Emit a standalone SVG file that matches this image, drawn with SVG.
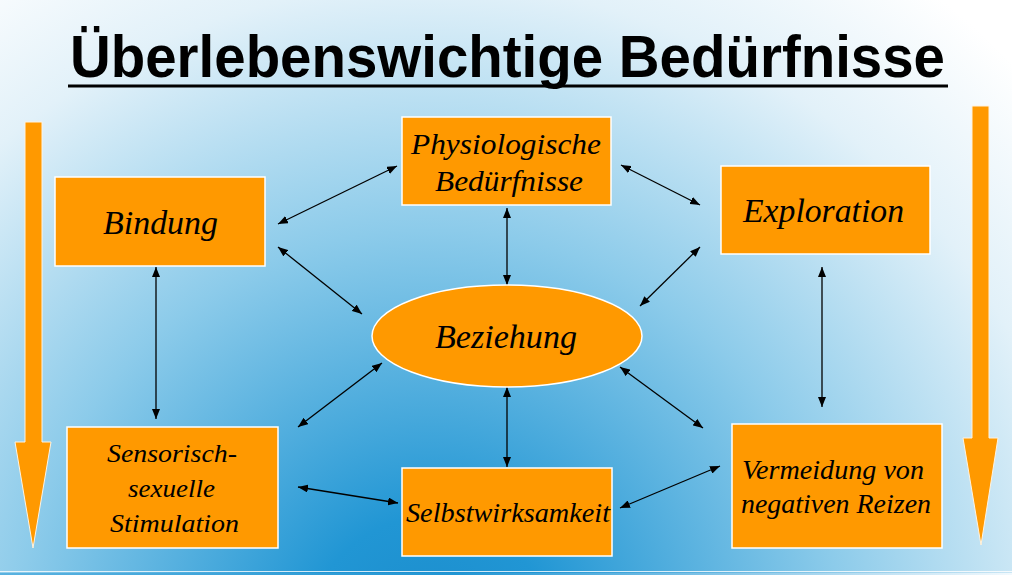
<svg xmlns="http://www.w3.org/2000/svg" width="1012" height="575" viewBox="0 0 1012 575">
<defs>
<radialGradient id="bg" gradientUnits="userSpaceOnUse" cx="430" cy="640" r="820">
<stop offset="0" stop-color="#1a8ccc"/>
<stop offset="0.15" stop-color="#2196d4"/>
<stop offset="0.5" stop-color="#8ccbea"/>
<stop offset="0.8" stop-color="#e2f1f9"/>
<stop offset="1" stop-color="#ffffff"/>
</radialGradient>
<linearGradient id="strip" x1="0" y1="0" x2="1" y2="0">
<stop offset="0" stop-color="#5ab2e0"/>
<stop offset="0.45" stop-color="#2196d4"/>
<stop offset="1" stop-color="#f2f9fd"/>
</linearGradient>
<marker id="ah" viewBox="0 0 10 8" refX="10" refY="4" markerWidth="10" markerHeight="8" markerUnits="userSpaceOnUse" orient="auto-start-reverse">
<path d="M0,0 L10,4 L0,8 Z" fill="#000"/>
</marker>
<style>
.box{fill:#ff9900;stroke:#ffffff;stroke-width:1.5}
.lbl{font-family:"Liberation Serif","Times New Roman",serif;font-style:italic;fill:#000;text-anchor:start}
.con{stroke:#000;stroke-width:1.3;fill:none;marker-start:url(#ah);marker-end:url(#ah)}
.big{fill:#ff9900;stroke:#fff3e0;stroke-width:1}
</style>
</defs>
<rect x="0" y="0" width="1012" height="575" fill="url(#bg)"/>
<rect x="0" y="573" width="1012" height="2" fill="url(#strip)"/>
<line x1="0" y1="571.5" x2="1012" y2="571.5" stroke="#ffffff" stroke-width="1.2" opacity="0.8"/>

<g id="title">
<text x="70" y="77" font-family="Liberation Sans, Arial, sans-serif" font-weight="bold" font-size="60" textLength="875" lengthAdjust="spacingAndGlyphs" fill="#000">Überlebenswichtige Bedürfnisse</text>
<rect x="68" y="84.5" width="880" height="3" fill="#000"/>
</g>

<g id="arrow-left">
<path class="big" d="M25,122 L42,122 L42,442 L51,442 L33,548 L15,442 L25,442 Z"/>
</g>
<g id="arrow-right">
<path class="big" d="M972,106 L989,106 L989,438 L998,438 L981,545 L963,438 L972,438 Z"/>
</g>

<g id="connectors">
<line class="con" x1="278" y1="224" x2="397" y2="166"/>
<line class="con" x1="278" y1="247" x2="362" y2="314"/>
<line class="con" x1="507" y1="208" x2="507" y2="285"/>
<line class="con" x1="621" y1="165" x2="700" y2="205"/>
<line class="con" x1="700" y1="247" x2="640" y2="306"/>
<line class="con" x1="156" y1="267" x2="156" y2="419"/>
<line class="con" x1="822" y1="267" x2="822" y2="407"/>
<line class="con" x1="382" y1="363" x2="298" y2="427"/>
<line class="con" x1="298" y1="487" x2="398" y2="503"/>
<line class="con" x1="507" y1="387" x2="507" y2="467"/>
<line class="con" x1="620" y1="367" x2="703" y2="428"/>
<line class="con" x1="620" y1="508" x2="720" y2="466"/>
</g>

<g id="bindung">
<rect class="box" x="55" y="177" width="210" height="89"/>
<text class="lbl" x="103" y="234" font-size="34" textLength="115" lengthAdjust="spacingAndGlyphs">Bindung</text>
</g>
<g id="physiologische">
<rect class="box" x="402" y="117" width="209" height="88"/>
<text class="lbl" x="411" y="154" font-size="29" textLength="190" lengthAdjust="spacingAndGlyphs">Physiologische</text>
<text class="lbl" x="435" y="191" font-size="29" textLength="148" lengthAdjust="spacingAndGlyphs">Bedürfnisse</text>
</g>
<g id="exploration">
<rect class="box" x="721" y="166" width="209" height="88"/>
<text class="lbl" x="743" y="222" font-size="33" textLength="161" lengthAdjust="spacingAndGlyphs">Exploration</text>
</g>
<g id="beziehung">
<ellipse class="box" cx="507" cy="336" rx="135" ry="51"/>
<text class="lbl" x="435" y="348" font-size="33" textLength="142" lengthAdjust="spacingAndGlyphs">Beziehung</text>
</g>
<g id="sensorisch">
<rect class="box" x="67" y="427" width="211" height="121"/>
<text class="lbl" x="107" y="462" font-size="26" textLength="130" lengthAdjust="spacingAndGlyphs">Sensorisch-</text>
<text class="lbl" x="128" y="497" font-size="26" textLength="87" lengthAdjust="spacingAndGlyphs">sexuelle</text>
<text class="lbl" x="110" y="532" font-size="26" textLength="129" lengthAdjust="spacingAndGlyphs">Stimulation</text>
</g>
<g id="selbstwirksamkeit">
<rect class="box" x="402" y="468" width="210" height="88"/>
<text class="lbl" x="406" y="522" font-size="27" textLength="204" lengthAdjust="spacingAndGlyphs">Selbstwirksamkeit</text>
</g>
<g id="vermeidung">
<rect class="box" x="732" y="424" width="210" height="124"/>
<text class="lbl" x="742" y="479" font-size="27" textLength="182" lengthAdjust="spacingAndGlyphs">Vermeidung von</text>
<text class="lbl" x="741" y="513" font-size="27" textLength="190" lengthAdjust="spacingAndGlyphs">negativen Reizen</text>
</g>
</svg>
